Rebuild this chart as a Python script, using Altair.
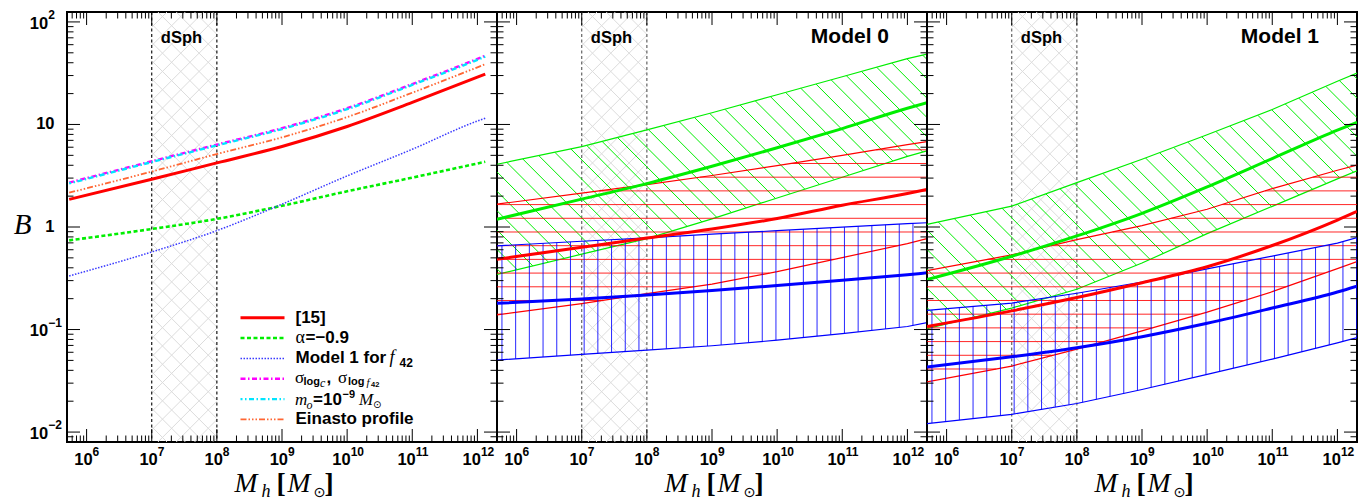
import numpy as np
import pandas as pd
import altair as alt

# ------------------------------------------------------------------ data
X_DOMAIN = [5e5, 2e12]
Y_DOMAIN = [0.008, 125]
X_TICK_VALUES = [1e6, 1e7, 1e8, 1e9, 1e10, 1e11, 1e12]
X_TICK_BASES = ["10", "10", "10", "10", "10", "10", "10"]
X_TICK_EXPONENTS = ["6", "7", "8", "9", "10", "11", "12"]
Y_TICK_VALUES = [0.01, 0.1, 1, 10, 100]
Y_TICK_BASES = ["10", "10", "1", "10", "10"]
Y_TICK_EXPONENTS = ["−2", "−1", "", "", "2"]
DSPH_RANGE = [1e7, 1e8]
DSPH_LABEL_X = [2.86e7]
PANEL_TITLES = ["", "Model 0", "Model 1"]

# panel 1 curves
P1_X = [5.4e5, 1e7, 1e8, 1e9, 1e10, 1e11, 1e12, 1.32e12]
P1_REF15 = [1.86, 2.92, 4.22, 6.09, 9.55, 16.4, 28.9, 31.0]
P1_ALPHA = [0.741, 0.956, 1.20, 1.61, 2.23, 3.03, 4.16, 4.32]
P1_MODEL1 = [0.333, 0.571, 0.922, 1.67, 3.15, 5.73, 10.8, 11.5]
P1_SIGMA = [2.71, 4.38, 6.37, 9.20, 14.4, 24.8, 43.6, 46.8]
P1_MO = [2.66, 4.30, 6.25, 9.02, 14.1, 24.3, 42.7, 45.9]
P1_EINASTO = [2.16, 3.47, 5.15, 7.49, 11.8, 20.4, 36.1, 38.7]

# panels 2 and 3 bands (upper, central, lower)
BAND_X = [5e5, 1e7, 1e8, 1e9, 1e10, 1e11, 1e12, 2e12]

M0_GREEN_HI = [4.09, 6.09, 8.87, 13.0, 19.5, 29.2, 43.8, 48.5]
M0_GREEN_MID = [1.19, 1.87, 2.65, 3.91, 5.92, 9.12, 14.4, 16.3]
M0_GREEN_LO = [0.345, 0.543, 0.770, 1.20, 1.92, 3.06, 4.88, 5.53]
M0_RED_HI = [1.67, 2.14, 2.59, 3.18, 3.97, 5.00, 6.35, 6.80]
M0_RED_MID = [0.484, 0.634, 0.780, 0.955, 1.21, 1.63, 2.12, 2.32]
M0_RED_LO = [0.139, 0.179, 0.224, 0.277, 0.367, 0.503, 0.689, 0.77]
M0_BLUE_HI = [0.655, 0.726, 0.785, 0.851, 0.921, 0.996, 1.08, 1.10]
M0_BLUE_MID = [0.180, 0.199, 0.217, 0.240, 0.269, 0.303, 0.343, 0.357]
M0_BLUE_LO = [0.0504, 0.0572, 0.063, 0.0695, 0.0787, 0.0911, 0.107, 0.117]

M1_GREEN_HI = [1.06, 1.60, 2.71, 4.58, 7.94, 14.0, 26.4, 31.7]
M1_GREEN_MID = [0.307, 0.518, 0.818, 1.36, 2.46, 4.65, 8.79, 10.5]
M1_GREEN_LO = [0.102, 0.162, 0.247, 0.445, 0.862, 1.59, 2.95, 3.53]
M1_RED_HI = [0.375, 0.535, 0.753, 1.03, 1.49, 2.37, 3.58, 4.02]
M1_RED_MID = [0.107, 0.152, 0.205, 0.286, 0.41, 0.66, 1.17, 1.42]
M1_RED_LO = [0.0308, 0.044, 0.0644, 0.097, 0.148, 0.234, 0.393, 0.459]
M1_BLUE_HI = [0.154, 0.181, 0.226, 0.291, 0.390, 0.52, 0.697, 0.788]
M1_BLUE_MID = [0.043, 0.0543, 0.0665, 0.0851, 0.115, 0.162, 0.232, 0.265]
M1_BLUE_LO = [0.0121, 0.0149, 0.019, 0.026, 0.0365, 0.0515, 0.074, 0.0833]

# ------------------------------------------------------------------ style
SANS = "Liberation Sans"
SERIF = "Liberation Serif"
W = H = 430
GREEN = "#00ee00"
RED = "#ff0000"
BLUE = "#0000ff"
HATCH_GAP = 13.7      # px between hatch lines
CROSS_GAP = 18.3      # px horizontal period of dSph cross-hatch

XS = alt.Scale(type="log", domain=X_DOMAIN, nice=False)
YS = alt.Scale(type="log", domain=Y_DOMAIN, nice=False)

LX0, LX1 = np.log10(X_DOMAIN)
LY0, LY1 = np.log10(Y_DOMAIN)
PX = W / (LX1 - LX0)
PY = H / (LY1 - LY0)
G = np.linspace(LX0, LX1, 6001)


def X(field="x"):
    return alt.X(f"{field}:Q", scale=XS, axis=None)


def Y(field="y"):
    return alt.Y(f"{field}:Q", scale=YS, axis=None)


def on_grid(xv, yv):
    return np.interp(G, np.log10(xv), np.log10(yv))


def runs(mask):
    idx = np.flatnonzero(mask)
    if idx.size < 2:
        return []
    br = np.flatnonzero(np.diff(idx) > 1)
    st = np.r_[idx[0], idx[br + 1]]
    en = np.r_[idx[br], idx[-1]]
    return [(s, e) for s, e in zip(st, en) if e > s]


def diag_hatch(lo, hi, sign, step, xmask=None, phase=0.0):
    u = G * PX
    vmin, vmax = -LY1 * PY, -LY0 * PY
    if sign > 0:
        cmin, cmax = vmin - u.max(), vmax - u.min()
    else:
        cmin, cmax = vmin + u.min(), vmax + u.max()
    rows = []
    for c in np.arange(np.floor(cmin / step) * step + phase, cmax + step, step):
        ly = -(sign * u + c) / PY
        m = (ly >= lo) & (ly <= hi) & (ly >= LY0) & (ly <= LY1)
        if xmask is not None:
            m &= xmask
        for s, e in runs(m):
            rows.append((10 ** G[s], 10 ** ly[s], 10 ** G[e], 10 ** ly[e]))
    return pd.DataFrame(rows, columns=["x", "y", "x2", "y2"])


def horiz_hatch(lo, hi, base, step):
    rows = []
    for k in range(int(np.ceil((LY0 - base) / step)), int(np.floor((LY1 - base) / step)) + 1):
        ly = base + k * step
        for s, e in runs((lo <= ly) & (hi >= ly)):
            rows.append((10 ** G[s], 10 ** ly, 10 ** G[e], 10 ** ly))
    return pd.DataFrame(rows, columns=["x", "y", "x2", "y2"])


def vert_hatch(xv, lov, hiv, base, step):
    k = np.arange(int(np.ceil((LX0 - base) / step)), int(np.floor((LX1 - base) / step)) + 1)
    lxs = base + k * step
    lo = np.interp(lxs, np.log10(xv), np.log10(lov))
    hi = np.interp(lxs, np.log10(xv), np.log10(hiv))
    return pd.DataFrame({"x": 10 ** lxs, "y": 10 ** lo, "x2": 10 ** lxs, "y2": 10 ** hi})


def segs(df, color, width, opacity=1.0):
    return alt.Chart(df).mark_rule(color=color, strokeWidth=width, opacity=opacity, clip=True).encode(
        x=X(), y=Y(), x2="x2:Q", y2="y2:Q")


def curve(xv, yv, color, width, interp="linear", **kw):
    df = pd.DataFrame({"x": xv, "y": yv})
    return alt.Chart(df).mark_line(color=color, strokeWidth=width, clip=True, interpolate=interp, **kw).encode(
        x=X(), y=Y())


def text(txt, x, y, size, font=SANS, weight="bold", style="normal", align="left",
         baseline="middle", dy=0, color="black"):
    df = pd.DataFrame({"t": [txt]})
    return alt.Chart(df).mark_text(align=align, baseline=baseline, font=font, fontSize=size,
                                   fontWeight=weight, fontStyle=style, dy=dy, color=color).encode(
        text="t:N", x=alt.value(x), y=alt.value(y))


def tick_layers():
    out = []
    xmin = [m * 10.0 ** d for d in range(5, 13) for m in range(2, 10)
            if X_DOMAIN[0] <= m * 10.0 ** d <= X_DOMAIN[1]]
    ymin = [m * 10.0 ** d for d in range(-3, 3) for m in range(2, 10)
            if Y_DOMAIN[0] <= m * 10.0 ** d <= Y_DOMAIN[1]]
    for vals, L in ((X_TICK_VALUES, 13), (xmin, 6.5)):
        df = pd.DataFrame({"x": vals})
        for y0, y1 in ((0, L), (H, H - L)):
            out.append(alt.Chart(df).mark_rule(color="black", strokeWidth=1).encode(
                x=X(), y=alt.value(y0), y2=alt.value(y1)))
    for vals, L in ((Y_TICK_VALUES, 13), (ymin, 6.5)):
        df = pd.DataFrame({"y": vals})
        for x0, x1 in ((0, L), (W, W - L)):
            out.append(alt.Chart(df).mark_rule(color="black", strokeWidth=1).encode(
                y=Y(), x=alt.value(x0), x2=alt.value(x1)))
    return out


def xlabel_layers():
    out = []
    for ndig, dx in ((1, 6.0), (2, 3.5)):
        sel = [i for i, e in enumerate(X_TICK_EXPONENTS) if len(e) == ndig]
        df = pd.DataFrame({"x": [X_TICK_VALUES[i] for i in sel],
                           "b": [X_TICK_BASES[i] for i in sel],
                           "e": [X_TICK_EXPONENTS[i] for i in sel]})
        out.append(alt.Chart(df).mark_text(align="right", baseline="alphabetic", dx=dx, font=SANS,
                                           fontSize=16.5, fontWeight="bold", color="black").encode(
            x=X(), y=alt.value(452.5), text="b:N"))
        out.append(alt.Chart(df).mark_text(align="left", baseline="alphabetic", dx=dx, font=SANS,
                                           fontSize=12, fontWeight="bold", color="black").encode(
            x=X(), y=alt.value(443.8), text="e:N"))
    return out


def ylabel_layers():
    plain = [i for i, e in enumerate(Y_TICK_EXPONENTS) if e == ""]
    expo = [i for i, e in enumerate(Y_TICK_EXPONENTS) if e != ""]
    d1 = pd.DataFrame({"y": [Y_TICK_VALUES[i] for i in plain], "b": [Y_TICK_BASES[i] for i in plain]})
    d2 = pd.DataFrame({"y": [Y_TICK_VALUES[i] for i in expo], "b": [Y_TICK_BASES[i] for i in expo],
                       "e": [Y_TICK_EXPONENTS[i] for i in expo]})
    common = dict(font=SANS, fontWeight="bold", color="black")
    return [
        alt.Chart(d1).mark_text(align="right", baseline="middle", fontSize=16.5, **common).encode(
            y=Y(), x=alt.value(-12.5), text="b:N"),
        alt.Chart(d2).mark_text(align="right", baseline="alphabetic", fontSize=16.5, dy=6.7, **common).encode(
            y=Y(), x=alt.value(-18.8), text="b:N"),
        alt.Chart(d2).mark_text(align="left", baseline="alphabetic", fontSize=12, dy=-2.7, **common).encode(
            y=Y(), x=alt.value(-18.8), text="e:N"),
    ]


def dsph_layers(dash_color):
    gx = (G >= np.log10(DSPH_RANGE[0])) & (G <= np.log10(DSPH_RANGE[1]))
    lo = np.full_like(G, LY0)
    hi = np.full_like(G, LY1)
    c1 = diag_hatch(lo, hi, 1, CROSS_GAP, xmask=gx)
    c2 = diag_hatch(lo, hi, -1, CROSS_GAP, xmask=gx)
    dl = pd.DataFrame({"x": DSPH_RANGE})
    dashed = alt.Chart(dl).mark_rule(color=dash_color, strokeWidth=1.1, strokeDash=[3, 2.5]).encode(
        x=X(), y=alt.value(0), y2=alt.value(H))
    lab = alt.Chart(pd.DataFrame({"x": DSPH_LABEL_X, "t": ["dSph"]})).mark_text(
        align="center", baseline="alphabetic", font=SANS, fontSize=16.5, fontWeight="bold",
        color="black").encode(x=X(), y=alt.value(31.4), text="t:N")
    return [segs(c1, "#dcdcdc", 1), segs(c2, "#dcdcdc", 1), dashed], [lab]


def xtitle_layers():
    b = 479.5
    return [
        text("M", 167.5, b, 27.5, font=SERIF, weight="normal", style="italic", baseline="alphabetic"),
        text("h", 194.5, b, 18, font=SERIF, weight="normal", style="italic", baseline="alphabetic", dy=5),
        text("[", 209.5, b, 27.5, font=SERIF, weight="bold", baseline="alphabetic"),
        text("M", 220.5, b, 27.5, font=SERIF, weight="normal", style="italic", baseline="alphabetic"),
        text("⊙", 246.5, b, 14.5, font="DejaVu Sans", weight="normal", baseline="alphabetic", dy=5),
        text("]", 257.5, b, 27.5, font=SERIF, weight="bold", baseline="alphabetic"),
    ]


# ------------------------------------------------------------------ panel 1
def panel1():
    back, front = dsph_layers("black")
    layers = list(back)
    styles = [
        (P1_REF15, RED, 3.0, {}),
        (P1_ALPHA, "#00ee00", 2.6, {"strokeDash": [4, 2.5]}),
        (P1_MODEL1, "#3a3aff", 1.5, {"strokeDash": [1.5, 1.5]}),
        (P1_SIGMA, "#ff00ff", 2.4, {"strokeDash": [5, 2.5, 1.5, 2.5]}),
        (P1_MO, "#00e5ff", 2.4, {"strokeDash": [5, 2.5, 1.5, 2.5], "strokeDashOffset": 3}),
        (P1_EINASTO, "#ff6633", 1.8, {"strokeDash": [6, 2, 1.5, 2, 1.5, 2, 1.5, 2]}),
    ]
    for yv, col, wd, kw in styles:
        layers.append(curve(P1_X, yv, col, wd, interp="monotone", **kw))
    # legend
    row0, drow = 305.7, 20.35
    for i, (yv, col, wd, kw) in enumerate(styles):
        y = row0 + i * drow
        df = pd.DataFrame({"k": [i]})
        layers.append(alt.Chart(df).mark_rule(color=col, strokeWidth=wd, **kw).encode(
            x=alt.value(173.5), x2=alt.value(217.5), y=alt.value(y)))
    r = [row0 + i * drow for i in range(6)]
    L = 228.5
    layers += [
        text("[15]", L, r[0], 17),
        text("α", L, r[1], 18, font=SERIF, weight="normal"),
        text("=−0.9", L + 10, r[1], 17),
        text("Model 1 for", L, r[2], 17),
        text("f", L + 94, r[2], 18, font=SERIF, weight="normal", style="italic"),
        text("42", L + 104, r[2], 12, dy=5),
        text("σ", L - 0.5, r[3], 17, font=SERIF, weight="normal", dy=-1),
        text("log", L + 8, r[3], 11, dy=3.5),
        text("c", L + 24.5, r[3], 12, font=SERIF, weight="normal", style="italic", dy=4.5),
        text(",", L + 31, r[3], 17, dy=-1),
        text("σ", L + 42.5, r[3], 17, font=SERIF, weight="normal", dy=-1),
        text("log", L + 52.5, r[3], 11, dy=3.5),
        text("f", L + 71, r[3], 11, font=SERIF, weight="normal", style="italic", dy=4),
        text("42", L + 75.5, r[3], 7.5, dy=6),
        text("m", L - 0.5, r[4], 17, font=SERIF, weight="normal", style="italic", dy=1),
        text("o", L + 11, r[4], 12, font=SERIF, weight="normal", style="italic", dy=5.5),
        text("=10", L + 17.5, r[4], 17, dy=1),
        text("−9", L + 47, r[4], 11, dy=-4),
        text("M", L + 63.5, r[4], 17, font=SERIF, weight="normal", style="italic", dy=1),
        text("⊙", L + 77.5, r[4], 10, font="DejaVu Sans", weight="normal", dy=6),
        text("Einasto profile", L, r[5], 17),
    ]
    layers += tick_layers()
    layers += front
    layers += xlabel_layers()
    layers += ylabel_layers()
    layers += xtitle_layers()
    layers.append(text("B", -44.5, 212.7, 29, font=SERIF, weight="normal", style="italic",
                       align="center"))
    return alt.layer(*layers).properties(width=W, height=H)


# ------------------------------------------------------------------ panels 2, 3
def band_panel(title, gh, gm, gl, rh, rm, rl, bh, bm, bl):
    back, front = dsph_layers("#555555")
    layers = list(back)
    # green band: diagonal hatch
    glo, ghi = on_grid(BAND_X, gl), on_grid(BAND_X, gh)
    layers.append(segs(diag_hatch(glo, ghi, 1, HATCH_GAP * np.sqrt(2)), GREEN, 1))
    layers.append(curve(BAND_X, gh, GREEN, 1.2))
    layers.append(curve(BAND_X, gl, GREEN, 1.2))
    # red band: horizontal hatch
    rlo, rhi = on_grid(BAND_X, rl), on_grid(BAND_X, rh)
    layers.append(segs(horiz_hatch(rlo, rhi, 0.085, HATCH_GAP / PY), RED, 1, opacity=0.85))
    layers.append(curve(BAND_X, rh, RED, 1.2))
    layers.append(curve(BAND_X, rl, RED, 1.2))
    # blue band: vertical hatch
    layers.append(segs(vert_hatch(BAND_X, bl, bh, 5.775, HATCH_GAP / PX), BLUE, 1, opacity=0.85))
    layers.append(curve(BAND_X, bh, BLUE, 1.2))
    layers.append(curve(BAND_X, bl, BLUE, 1.2))
    # central lines
    layers.append(curve(BAND_X, gm, GREEN, 3, interp="monotone"))
    layers.append(curve(BAND_X, rm, RED, 3, interp="monotone"))
    layers.append(curve(BAND_X, bm, BLUE, 3, interp="monotone"))
    layers += tick_layers()
    layers += front
    layers.append(text(title, 392, 31.4, 21, align="right", baseline="alphabetic"))
    layers += xlabel_layers()
    layers += xtitle_layers()
    return alt.layer(*layers).properties(width=W, height=H)


p1 = panel1()
p2 = band_panel(PANEL_TITLES[1], M0_GREEN_HI, M0_GREEN_MID, M0_GREEN_LO,
                M0_RED_HI, M0_RED_MID, M0_RED_LO, M0_BLUE_HI, M0_BLUE_MID, M0_BLUE_LO)
p3 = band_panel(PANEL_TITLES[2], M1_GREEN_HI, M1_GREEN_MID, M1_GREEN_LO,
                M1_RED_HI, M1_RED_MID, M1_RED_LO, M1_BLUE_HI, M1_BLUE_MID, M1_BLUE_LO)

chart = alt.hconcat(p1, p2, p3, spacing=0, bounds="flush").properties(
    padding={"left": 4, "top": 0, "right": 0, "bottom": 3}
).configure_view(stroke="black", strokeWidth=2)

chart.save("out.html", embed_options={"renderer": "svg", "actions": False})
